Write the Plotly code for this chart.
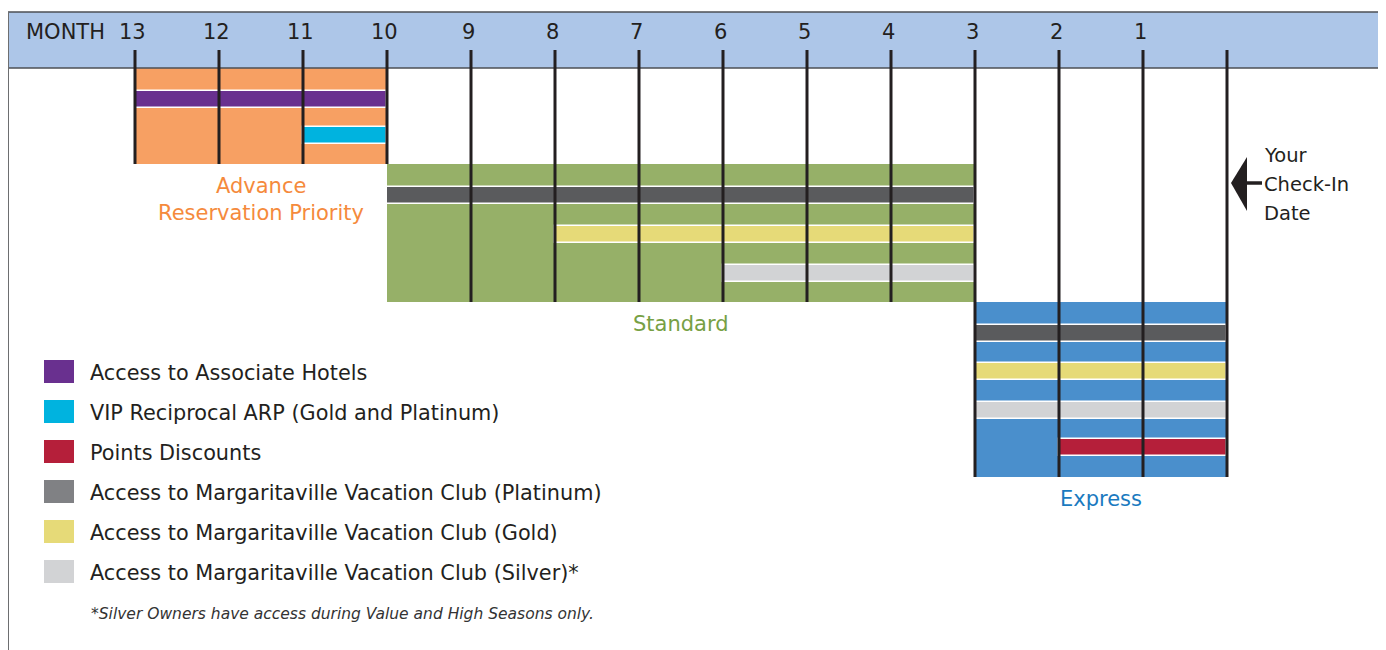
import plotly.graph_objects as go

# ---- data -------------------------------------------------------------
months = [13, 12, 11, 10, 9, 8, 7, 6, 5, 4, 3, 2, 1]

tier_names = ["Advance<br>Reservation Priority", "Standard", "Express"]
tier_start = [13, 10, 3]
tier_end = [10, 3, 0]

benefit_names = [
    "Access to Associate Hotels",
    "VIP Reciprocal ARP (Gold and Platinum)",
    "Points Discounts",
    "Access to Margaritaville Vacation Club (Platinum)",
    "Access to Margaritaville Vacation Club (Gold)",
    "Access to Margaritaville Vacation Club (Silver)*",
]

# (tier index, benefit index, start month, end month)
access_tier = [0, 0, 1, 1, 1, 2, 2, 2, 2]
access_benefit = [0, 1, 3, 4, 5, 3, 4, 5, 2]
access_start = [13, 11, 10, 8, 6, 3, 3, 3, 2]
access_end = [10, 10, 3, 3, 3, 0, 0, 0, 0]

checkin_text = ["Your", "Check-In", "Date"]
footnote = "*Silver Owners have access during Value and High Seasons only."

# ---- styling ----------------------------------------------------------
W, H = 1386, 650
OFF = 8  # page body margin: the figure starts 8px in
PX_MONTH = 84
X0 = 1227  # pixel of check-in date

tier_colors = ["#f7a063", "#96b068", "#4a8fcc"]
tier_text_colors = ["#f58a3c", "#77a044", "#1a7abf"]
tier_top = [68, 164, 302]
tier_bottom = [164, 302, 477]

stripe_colors = ["#69308f", "#00b3df", "#b51f3a", "#5a5b5d", "#e6da78", "#d2d3d5"]
legend_colors = ["#69308f", "#00b3df", "#b51f3a", "#808184", "#e6da78", "#d2d3d5"]
stripe_y = [99, 135, 195, 234, 273, 333, 371, 410, 447]

FONT = "DejaVu Sans"
INK = "#231f20"
FRAME = "#4d4f55"


def px_to_month(px):
    return (X0 - px) / PX_MONTH


def paper_x(px):
    return (px - OFF) / (W - OFF)


fig = go.Figure()

# tier blocks
for i, name in enumerate(tier_names):
    fig.add_trace(go.Bar(
        orientation="h",
        y=[(tier_top[i] + tier_bottom[i]) / 2],
        x=[tier_start[i] - tier_end[i]],
        base=[tier_end[i]],
        width=[tier_bottom[i] - tier_top[i]],
        marker=dict(color=tier_colors[i], line_width=0),
        hoverinfo="skip",
        showlegend=False,
    ))

# benefit stripes
for k in range(len(access_tier)):
    fig.add_trace(go.Bar(
        orientation="h",
        y=[stripe_y[k]],
        x=[access_start[k] - access_end[k]],
        base=[access_end[k]],
        width=[17],
        marker=dict(color=stripe_colors[access_benefit[k]],
                    line=dict(color="white", width=1.5)),
        hoverinfo="skip",
        showlegend=False,
    ))

shapes = []
# header band
shapes.append(dict(type="rect", xref="paper", yref="y", x0=paper_x(8), x1=1.0,
                   y0=12, y1=68, fillcolor="#adc6e8",
                   line=dict(width=0), layer="below"))
for yy in (12, 68):
    shapes.append(dict(type="line", xref="paper", yref="y", x0=paper_x(8),
                       x1=1.0, y0=yy, y1=yy,
                       line=dict(color=FRAME, width=1.5)))
# left frame line
shapes.append(dict(type="line", xref="paper", yref="y", x0=paper_x(8.5),
                   x1=paper_x(8.5), y0=12, y1=H,
                   line=dict(color="#6d6e70", width=1)))

# month grid lines: reach down to the bottom of the tier they belong to
for m in months + [0]:
    if m >= 10:
        bottom = tier_bottom[0]
    elif m > 3:
        bottom = tier_bottom[1]
    else:
        bottom = tier_bottom[2]
    shapes.append(dict(type="line", xref="x", yref="y", x0=m, x1=m,
                       y0=50, y1=bottom, line=dict(color=INK, width=3),
                       layer="above"))

# check-in arrow
shapes.append(dict(type="path", xref="x", yref="y",
                   path=f"M {px_to_month(1231)},183 L {px_to_month(1247)},157 "
                        f"L {px_to_month(1247)},211 Z",
                   fillcolor=INK, line=dict(width=0)))
shapes.append(dict(type="line", xref="x", yref="y",
                   x0=px_to_month(1245), x1=px_to_month(1262), y0=183, y1=183,
                   line=dict(color=INK, width=3.5)))

annotations = []
annotations.append(dict(text="MONTH", x=paper_x(24), y=32, xref="paper", yref="y",
                        xanchor="left", yanchor="middle", showarrow=False,
                        font=dict(family=FONT, size=21, color=INK)))
for m in months:
    annotations.append(dict(text=str(m), x=m + 0.03, y=32, xref="x", yref="y",
                            xanchor="center", yanchor="middle", showarrow=False,
                            font=dict(family=FONT, size=21, color=INK)))

label_x = [px_to_month(261), 6.5, 1.5]
label_y = [[186, 213], [324], [499]]
for i, name in enumerate(tier_names):
    for line, yy in zip(name.split("<br>"), label_y[i]):
        annotations.append(dict(text=line, xref="x", yref="y",
                                x=label_x[i], y=yy,
                                xanchor="center", yanchor="middle",
                                showarrow=False,
                                font=dict(family=FONT, size=21,
                                          color=tier_text_colors[i])))

for line, yy in zip(checkin_text, [155, 184, 213]):
    annotations.append(dict(text=line, x=paper_x(1262), y=yy,
                            xref="paper", yref="y", xanchor="left",
                            yanchor="middle", showarrow=False,
                            font=dict(family=FONT, size=19.5, color=INK)))

# legend
for j, name in enumerate(benefit_names):
    yc = 371.5 + 40 * j
    shapes.append(dict(type="rect", xref="paper", yref="y",
                       x0=paper_x(44), x1=paper_x(74), y0=yc - 11.5,
                       y1=yc + 11.5, fillcolor=legend_colors[j],
                       line=dict(width=0)))
    annotations.append(dict(text=name, x=paper_x(88), y=yc + 1, xref="paper",
                            yref="y", xanchor="left", yanchor="middle",
                            showarrow=False,
                            font=dict(family=FONT, size=20.8, color=INK)))

annotations.append(dict(text=f"<i>{footnote}</i>", x=paper_x(89), y=614,
                        xref="paper", yref="y", xanchor="left", yanchor="middle",
                        showarrow=False,
                        font=dict(family=FONT, size=15.5, color="#333333")))

fig.update_layout(
    width=W - OFF, height=H - OFF,
    margin=dict(l=0, r=0, t=0, b=0),
    paper_bgcolor="white", plot_bgcolor="white",
    barmode="overlay", bargap=0,
    xaxis=dict(range=[px_to_month(OFF), px_to_month(W)], visible=False,
               fixedrange=True),
    yaxis=dict(range=[H, OFF], visible=False, fixedrange=True),
    shapes=shapes, annotations=annotations,
    showlegend=False,
)

fig.write_html("out.html")
